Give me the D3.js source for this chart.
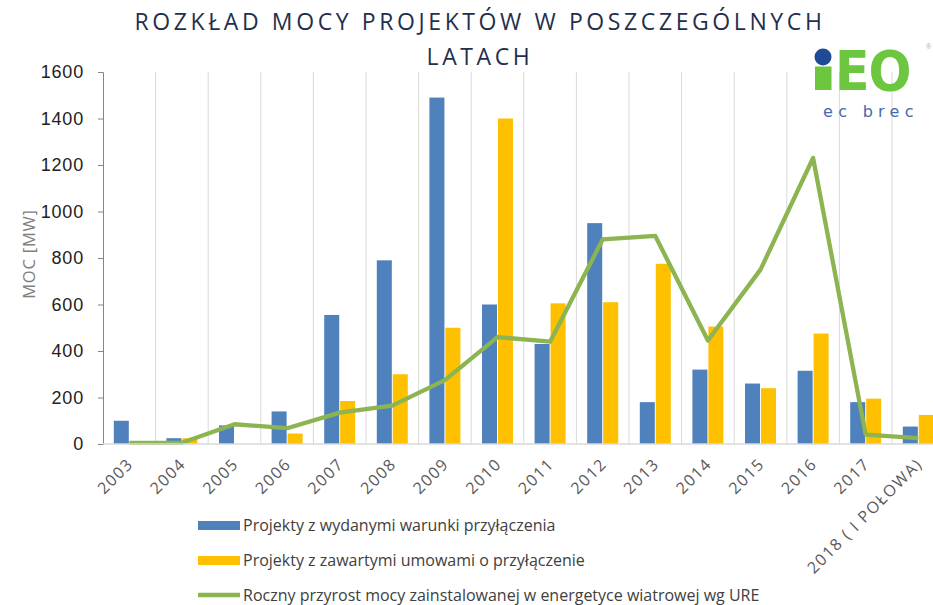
<!DOCTYPE html>
<html><head><meta charset="utf-8">
<script src="https://cdn.jsdelivr.net/npm/d3@7"></script>
<style>body{margin:0;background:#fff;overflow:hidden}svg{display:block}</style>
</head><body>
<svg id="c" width="933" height="605"></svg>
<script>
const years = ["2003","2004","2005","2006","2007","2008","2009","2010","2011","2012","2013","2014","2015","2016","2017","2018 ( I POŁOWA)"];
const warunki = [100,25,80,140,555,790,1490,600,430,950,180,320,260,315,180,75];
const umowy = [0,25,0,45,185,300,500,1400,605,610,775,505,240,475,195,125];
const przyrost = [5,5,85,68,135,165,275,460,440,880,895,445,750,1230,40,25];
const yTicks = [0,200,400,600,800,1000,1200,1400,1600];
const seriesNames = ["Projekty z wydanymi warunki przyłączenia","Projekty z zawartymi umowami o przyłączenie","Roczny przyrost mocy zainstalowanej w energetyce wiatrowej wg URE"];
const colors = ["#4f81bd","#ffc000","#8cb450"];

const svg = d3.select("#c");
const pLeft = 103, pTop = 72, pBottom = 444, bandW = 52.6;
const x = d3.scaleBand().domain(years).range([pLeft, pLeft + bandW*years.length]).padding(0);
const y = d3.scaleLinear().domain([0,1600]).range([pBottom, pTop]);
const x1 = d3.scaleBand().domain(["w","u"]).range([bandW/2-15.5, bandW/2+15.5]).paddingInner(0.06);

// vertical gridlines
svg.append("g").selectAll("line").data(years).join("line")
  .attr("x1", (d,i)=>pLeft + bandW*(i+1)).attr("x2",(d,i)=>pLeft + bandW*(i+1))
  .attr("y1", pTop).attr("y2", pBottom).attr("stroke","#d9d9d9").attr("stroke-width",1);

// logo
const logo = svg.append("g");
logo.append("rect").attr("x",815).attr("y",66.5).attr("width",16.5).attr("height",23.5).attr("fill","#6cc63f");
logo.append("circle").attr("cx",823).attr("cy",57).attr("r",8.5).attr("fill","#1f4a95");
logo.append("text").attr("x",835).attr("y",90).attr("font-family","DejaVu Sans").attr("font-weight","bold")
  .attr("font-size",55).attr("fill","#6cc63f").attr("letter-spacing","-1px")
  .attr("transform","translate(835,0) scale(0.92,1) translate(-835,0)").text("EO");
logo.append("text").attr("x",926).attr("y",49).attr("font-family","Arial, sans-serif").attr("font-size",7).attr("fill","#aaa").text("®");
logo.append("text").attr("x",823).attr("y",117).attr("font-family","DejaVu Sans, sans-serif").attr("font-size",16)
  .attr("letter-spacing","5.3px").attr("fill","#4a68ad").text("ec brec");

// bars
const bars = svg.append("g");
years.forEach((yr,i)=>{
  [["w",warunki[i],colors[0]],["u",umowy[i],colors[1]]].forEach(([k,v,c])=>{
    if(v<=0) return;
    bars.append("rect").attr("x", x(yr)+x1(k)).attr("width", x1.bandwidth())
      .attr("y", y(v)).attr("height", y(0)-y(v)).attr("fill", c);
  });
});

// line
const line = d3.line().x((d,i)=>x(years[i])+bandW/2).y(d=>y(d));
svg.append("path").datum(przyrost).attr("d", line).attr("fill","none")
  .attr("stroke", colors[2]).attr("stroke-width",4.3).attr("stroke-linejoin","round");

// y axis
const yAxis = svg.append("g").attr("transform",`translate(${pLeft},0)`)
  .call(d3.axisLeft(y).tickValues(yTicks).tickFormat(d3.format("d")).tickSize(5).tickPadding(14));
yAxis.select(".domain").attr("stroke","#868686");
yAxis.selectAll(".tick line").attr("stroke","#868686");
yAxis.selectAll("text").attr("font-family","Liberation Sans, Arial, sans-serif").attr("font-size",18)
  .attr("letter-spacing","0.8px").attr("fill","#222");

// x axis line
svg.append("line").attr("x1",pLeft).attr("x2",pLeft+bandW*years.length).attr("y1",pBottom).attr("y2",pBottom)
  .attr("stroke","#d9d9d9").attr("stroke-width",1.5);

// x labels
svg.append("g").selectAll("text").data(years).join("text")
  .attr("transform", d=>`translate(${x(d)+bandW/2+5},${pBottom+21}) rotate(-45)`)
  .attr("text-anchor","end").attr("font-family","Open Sans, sans-serif").attr("font-size",16)
  .attr("fill","#595959").attr("letter-spacing","1.5px").text(d=>d);

// y title
svg.append("text").attr("transform","translate(35,254) rotate(-90)").attr("text-anchor","middle")
  .attr("font-family","Open Sans, sans-serif").attr("font-size",16.5).attr("letter-spacing","0.8px")
  .attr("fill","#808080").text("MOC [MW]");

// title
const title = svg.append("g").attr("font-family","Open Sans, sans-serif").attr("font-size",23)
  .attr("fill","#1f2f4d").attr("letter-spacing","3.6px").attr("text-anchor","middle");
title.append("text").attr("x",480).attr("y",30).text("ROZKŁAD MOCY PROJEKTÓW W POSZCZEGÓLNYCH");
title.append("text").attr("x",480).attr("y",65).text("LATACH");

// legend
const lg = svg.append("g").attr("font-family","Open Sans, sans-serif").attr("font-size",16).attr("fill","#404040");
const rows = [525,560,595];
rows.forEach((ry,i)=>{
  if(i<2) lg.append("rect").attr("x",198).attr("y",ry-4).attr("width",42).attr("height",9).attr("fill",colors[i]);
  else lg.append("line").attr("x1",198).attr("x2",240).attr("y1",ry).attr("y2",ry).attr("stroke",colors[i]).attr("stroke-width",4.3);
  lg.append("text").attr("x",243).attr("y",ry+6).text(seriesNames[i]);
});
</script>
</body></html>
